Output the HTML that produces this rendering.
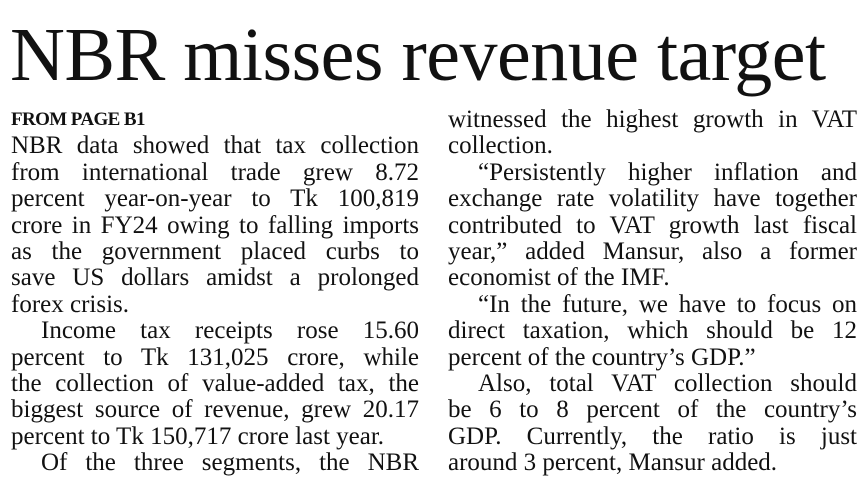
<!DOCTYPE html>
<html><head><meta charset="utf-8"><style>
html,body{margin:0;padding:0;background:#fff;}
body{width:868px;height:501px;overflow:hidden;position:relative;font-family:"Liberation Serif",serif;color:#111;}
h1{position:absolute;left:10px;top:0px;margin:0;font-weight:normal;font-size:76px;line-height:110px;white-space:nowrap;letter-spacing:-0.5px;transform-origin:0 0;}
.col{position:absolute;top:107px;font-size:25px;line-height:26.4px;}
.l{position:relative;height:26.4px;white-space:nowrap;}
.j{text-align:justify;text-align-last:justify;white-space:normal;}
.i{padding-left:30px;}
.h{font-weight:bold;font-size:19px;letter-spacing:-0.6px;}
</style></head><body>
<h1>NBR misses revenue target</h1>
<div class="col" style="left:11px;width:408px;">
<div class="l h">FROM PAGE B1</div>
<div class="l j">NBR data showed that tax collection</div>
<div class="l j">from international trade grew 8.72</div>
<div class="l j">percent year-on-year to Tk 100,819</div>
<div class="l j">crore in FY24 owing to falling imports</div>
<div class="l j">as the government placed curbs to</div>
<div class="l j">save US dollars amidst a prolonged</div>
<div class="l">forex crisis.</div>
<div class="l j i">Income tax receipts rose 15.60</div>
<div class="l j">percent to Tk 131,025 crore, while</div>
<div class="l j">the collection of value-added tax, the</div>
<div class="l j">biggest source of revenue, grew 20.17</div>
<div class="l">percent to Tk 150,717 crore last year.</div>
<div class="l j i">Of the three segments, the NBR</div>
</div>
<div class="col" style="left:448px;width:409px;">
<div class="l j">witnessed the highest growth in VAT</div>
<div class="l">collection.</div>
<div class="l j i">“Persistently higher inflation and</div>
<div class="l j">exchange rate volatility have together</div>
<div class="l j">contributed to VAT growth last fiscal</div>
<div class="l j">year,” added Mansur, also a former</div>
<div class="l">economist of the IMF.</div>
<div class="l j i">“In the future, we have to focus on</div>
<div class="l j">direct taxation, which should be 12</div>
<div class="l">percent of the country’s GDP.”</div>
<div class="l j i">Also, total VAT collection should</div>
<div class="l j">be 6 to 8 percent of the country’s</div>
<div class="l j">GDP. Currently, the ratio is just</div>
<div class="l">around 3 percent, Mansur added.</div>
</div>
</body></html>
